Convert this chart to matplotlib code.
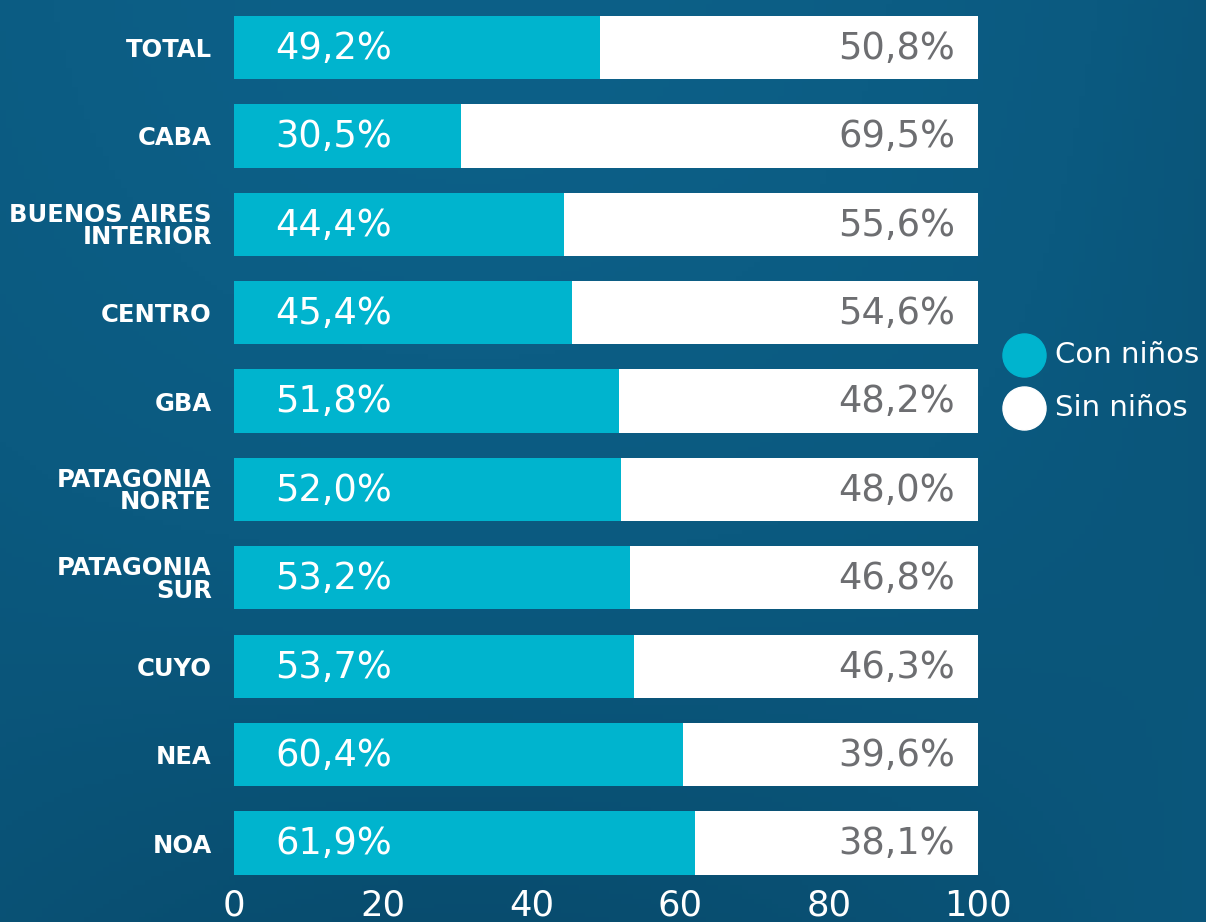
import matplotlib
matplotlib.use("Agg")
import matplotlib.pyplot as plt
import numpy as np
from matplotlib.lines import Line2D

categories = ["TOTAL", "CABA", "BUENOS AIRES\nINTERIOR", "CENTRO", "GBA",
              "PATAGONIA\nNORTE", "PATAGONIA\nSUR", "CUYO", "NEA", "NOA"]
con_ninos = [49.2, 30.5, 44.4, 45.4, 51.8, 52.0, 53.2, 53.7, 60.4, 61.9]
sin_ninos = [50.8, 69.5, 55.6, 54.6, 48.2, 48.0, 46.8, 46.3, 39.6, 38.1]
xticks = [0, 20, 40, 60, 80, 100]
series_names = ["Con niños", "Sin niños"]

CYAN = "#00b4ce"
WHITE = "#ffffff"
GREY = "#6d6e71"
BG = "#0b5a80"
FONT = ["DejaVu Sans"]

plt.rcParams["font.family"] = FONT

W, H = 1206, 922
fig = plt.figure(figsize=(W / 100, H / 100), dpi=100)
fig.patch.set_facecolor(BG)

# subtle background shading
bgax = fig.add_axes([0, 0, 1, 1], zorder=-10)
yy, xx = np.mgrid[0:1:200j, 0:1:200j]
shade = 0.5 + 0.25 * np.sin(xx * 3.0 + 0.4) * np.cos(yy * 2.2) - 0.1 * yy
bgax.imshow(shade, cmap=matplotlib.colors.LinearSegmentedColormap.from_list(
    "bg", ["#063f5d", "#0b5a80", "#0f6690"]), vmin=0, vmax=1, aspect="auto",
    extent=[0, 1, 0, 1])
bgax.axis("off")

ax = fig.add_axes([234 / W, 1 - 884 / H, 744 / W, 876 / H])
ax.set_facecolor("none")
y = np.arange(len(categories))
h = 0.715
ax.barh(y, con_ninos, height=h, color=CYAN, linewidth=0)
ax.barh(y, sin_ninos, left=con_ninos, height=h, color=WHITE, linewidth=0)

for i, (c, s) in enumerate(zip(con_ninos, sin_ninos)):
    ax.text(5.5, i + 0.01, f"{c:.1f}%".replace(".", ","), va="center", ha="left",
            color="white", fontsize=26.5)
    ax.text(96.9, i + 0.01, f"{s:.1f}%".replace(".", ","), va="center", ha="right",
            color=GREY, fontsize=26.5)

ax.set_xlim(0, 100)
ax.set_ylim(9.463, -0.447)
ax.set_yticks(y)
ax.set_yticklabels(categories, fontsize=17.5, fontweight="bold", color="white",
                   linespacing=0.92)
ax.set_xticks(xticks)
ax.set_xticklabels([str(t) for t in xticks], fontsize=25.5, color="white")
ax.tick_params(axis="both", length=0)
ax.tick_params(axis="y", pad=16)
ax.tick_params(axis="x", pad=3)
for sp in ax.spines.values():
    sp.set_visible(False)

# legend drawn in figure coordinates
leg_y = [355, 408]
leg_colors = [CYAN, WHITE]
for name, col, py in zip(series_names, leg_colors, leg_y):
    fig.add_artist(Line2D([1024 / W], [1 - py / H], marker="o", linestyle="none",
                          markersize=31, markerfacecolor=col,
                          markeredgecolor=col, transform=fig.transFigure))
    fig.text(1055 / W, 1 - py / H, name, ha="left", va="center",
             fontsize=21, color="white")

fig.savefig("out.png", dpi=100, facecolor=fig.get_facecolor())
